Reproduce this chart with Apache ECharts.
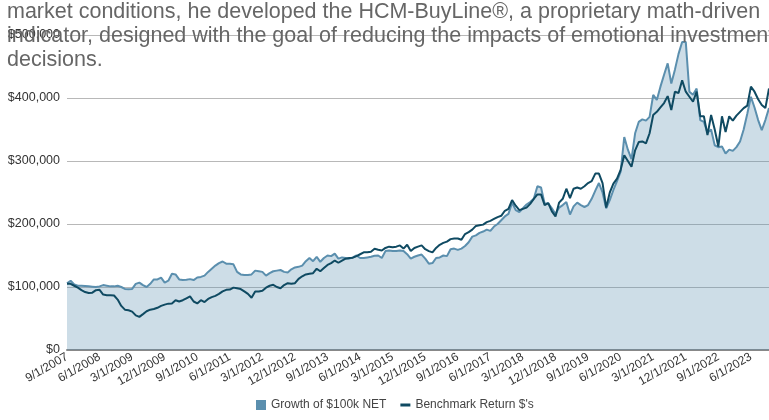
<!DOCTYPE html>
<html><head><meta charset="utf-8">
<script src="https://cdn.jsdelivr.net/npm/echarts@6/dist/echarts.min.js"></script>
<style>html,body{margin:0;padding:0;background:#fff}#c{width:769px;height:420px}</style>
</head><body><div id="c"></div>
<script>
// Categories: monthly from 9/1/2007
const startYear = 2007, startMonth = 9, monthCount = 195;
const categories = [];
for (let i = 0; i < monthCount; i++) {
  const m = (startMonth - 1 + i) % 12 + 1;
  const y = startYear + Math.floor((startMonth - 1 + i) / 12);
  categories.push(m + '/1/' + y);
}
const seriesNames = ['Growth of $100k NET', "Benchmark Return $'s"];
// values in $ thousands
const netValues = [
106,110,104,102,102,101.5,101,100.5,100,101,103,102,101,101,102,100,97,96.5,97,105,
107,103,100,105,112,112,115,107,110,121,120,112,111,111.5,112.5,111,115,116,118,124,
129,134,138,140.5,137,137,136,124,120,119,119,120,126,125,124,118,122,125,126,127,
124,123,128,131,132,134,141,146,141,148,140,146,150,149,153,145,147,146,145,147,
150,146,146,147,148,149.5,150,146,157,158,157,157,158,157,152,145,148,150,151.5,145,
137,138,146,147,150,149,160,161,159,161,165,171,180,182,186,188,191,189,196,200,
206,212,216,234,222,219,225,231,235,240,260,258,232,233,225,216,226,230,235,215,
228,234,230,227,230,240,253,265,250,225,238,254,268,283,338,318,303,344,362,366,
364,370,405,397,418,437,455,423,445,470,489,489,410,405,415,365,362,345,350,325,
322,323,312,318,316,322,331,350,375,402,385,365,349,365,384
];
const benchValues = [
105,105,102,99,95,92,90.5,91,95,95.5,88,87,87,86.5,80,70,64,63,61,55,
52.6,57,61.5,64,65,67,70,72,73.6,74,79,77,79,82,85,77,74,79,76,81,
84,86,89,93,95.5,96,99,98,96.7,93,89,83,93,93,94,99,102,103.5,100,98,
103,106,105,106,113,117,120,121,122,129,125,130,135,138,142,138.5,142,145,146,146.5,
149,152,155,155,156,160.6,159,158,162,164,163,164,166,161,167,157,162,164,166,160,
157,155,162,167,170,172,176,177,177,175,184,187,191,197,198,199,203,205,208,211,
213,221,224,238,229,222,224,226,232,240,247,247,230,233,220,212,234,240,256,241,
256,258,256,260,265,268,280,280,265,226,250,264,272,286,309,300,291,317,330,331,
328,344,373,378,385,392,403,381,410,408,428,410,402,394,410,371,371,341,373,350,
323,371,346,371,364,372,378,384,388,418,410,398,389,384,415
];
const yTicks = [0, 100000, 200000, 300000, 400000, 500000];
const introLines = [
  'market conditions, he developed the HCM-BuyLine®, a proprietary math-driven',
  'indicator, designed with the goal of reducing the impacts of emotional investment',
  'decisions.'
];

const chart = echarts.init(document.getElementById('c'), null, {renderer: 'canvas'});
const fmt = v => '$' + Math.round(v).toLocaleString('en-US');
chart.setOption({
  animation: false,
  backgroundColor: '#fff',
  textStyle: {fontFamily: 'Liberation Sans, Arial, sans-serif'},
  grid: {left: 67, right: 0, top: 35, bottom: 70, containLabel: false},
  legend: {
    bottom: 4, left: 251, itemGap: 14, itemWidth: 10, itemHeight: 10,
    textStyle: {color: '#444', fontSize: 12},
    data: [
      {name: seriesNames[0], icon: 'rect'},
      {name: seriesNames[1], icon: 'path://M0,4 L10,4 L10,7 L0,7 Z'}
    ]
  },
  xAxis: {
    type: 'category', data: categories, boundaryGap: false,
    axisLine: {show: true, lineStyle: {color: '#888', width: 2}},
    axisTick: {show: false},
    axisLabel: {interval: 8, rotate: 30, color: '#333', fontSize: 12, margin: 6},
    splitLine: {show: false}
  },
  yAxis: {
    type: 'value', min: yTicks[0], max: yTicks[yTicks.length - 1], interval: 100000,
    axisLine: {show: false}, axisTick: {show: false},
    axisLabel: {formatter: fmt, color: '#333', fontSize: 12.5, margin: 7},
    splitLine: {lineStyle: {color: '#b8b8b8', width: 1}}
  },
  series: [
    {
      name: seriesNames[0], type: 'line', data: netValues.map(v => v * 1000),
      symbol: 'none', smooth: false,
      lineStyle: {color: '#5b8fae', width: 2},
      itemStyle: {color: '#5b8fae'},
      areaStyle: {color: 'rgba(91,143,174,0.3)', opacity: 1},
      z: 2
    },
    {
      name: seriesNames[1], type: 'line', data: benchValues.map(v => v * 1000),
      symbol: 'none', smooth: false,
      lineStyle: {color: '#0f4a62', width: 2},
      itemStyle: {color: '#0f4a62'},
      z: 3
    }
  ],
  graphic: introLines.map((t, i) => ({
    type: 'text', left: 7, top: 1 + i * 24, z: 100,
    style: {text: t, fill: '#666', font: '21.5px "Liberation Sans", Arial, sans-serif'}
  }))
});
</script></body></html>
